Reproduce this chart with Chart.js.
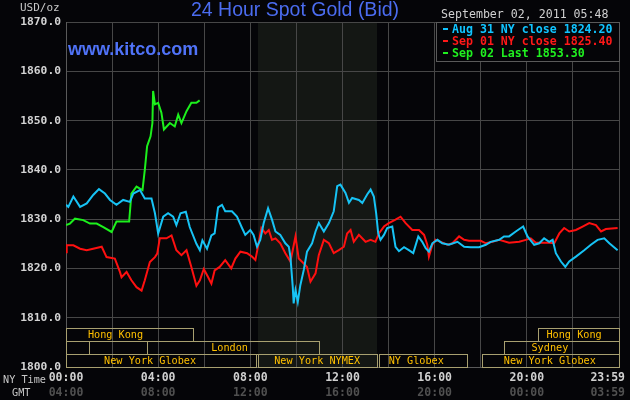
<!DOCTYPE html>
<html>
<head>
<meta charset="utf-8">
<script src="https://cdn.jsdelivr.net/npm/chart.js@4"></script>
<style>
  html, body { margin: 0; padding: 0; background: #050508; }
  canvas { display: block; }
</style>
</head>
<body>
<canvas id="chart" width="630" height="400"></canvas>
<script>
// hours since 00:00 NY time, price in USD/oz
const aug31Hours = [0, 0.1, 0.32, 0.61, 0.9, 1.18, 1.43, 1.69, 1.91, 2.19, 2.48, 2.77, 2.92, 3.21, 3.42, 3.71, 3.86, 4.0, 4.22, 4.43, 4.65, 4.79, 4.97, 5.2, 5.37, 5.66, 5.81, 5.92, 6.12, 6.31, 6.45, 6.6, 6.77, 6.91, 7.2, 7.42, 7.64, 7.78, 8.0, 8.14, 8.29, 8.43, 8.58, 8.77, 8.94, 9.09, 9.3, 9.52, 9.67, 9.74, 9.84, 9.88, 9.96, 10.06, 10.17, 10.32, 10.46, 10.68, 10.83, 10.97, 11.19, 11.41, 11.62, 11.77, 11.91, 12.13, 12.28, 12.42, 12.71, 12.86, 13.07, 13.22, 13.36, 13.46, 13.55, 13.65, 13.8, 13.94, 14.16, 14.3, 14.45, 14.67, 14.88, 15.07, 15.29, 15.46, 15.61, 15.75, 15.9, 16.12, 16.33, 16.62, 16.99, 17.28, 17.57, 17.93, 18.22, 18.43, 18.8, 19.01, 19.23, 19.52, 19.84, 20.03, 20.32, 20.54, 20.75, 20.97, 21.12, 21.26, 21.48, 21.67, 21.84, 22.13, 22.49, 22.78, 23.07, 23.36, 23.58, 23.94];
const aug31Values = [1832.9, 1832.5, 1834.6, 1832.5, 1833.2, 1834.9, 1836.1, 1835.2, 1833.9, 1832.9, 1833.9, 1833.5, 1835.2, 1835.9, 1834.2, 1834.2, 1831.2, 1827.1, 1830.5, 1831.2, 1830.5, 1828.8, 1831.2, 1831.5, 1828.4, 1825.0, 1823.7, 1825.7, 1824.0, 1826.7, 1827.1, 1832.4, 1832.9, 1831.6, 1831.6, 1830.5, 1828.2, 1826.8, 1827.8, 1826.8, 1824.4, 1825.8, 1829.2, 1832.2, 1829.9, 1827.5, 1826.8, 1825.1, 1824.4, 1822.4, 1816.3, 1812.9, 1815.6, 1813.2, 1816.6, 1819.7, 1823.4, 1825.1, 1827.5, 1829.2, 1827.5, 1829.2, 1831.6, 1836.7, 1837.0, 1835.3, 1833.3, 1834.3, 1833.9, 1833.3, 1835.0, 1836.0, 1834.6, 1831.2, 1827.1, 1825.8, 1826.8, 1828.2, 1828.5, 1824.4, 1823.5, 1824.3, 1823.7, 1823.1, 1826.5, 1825.4, 1824.1, 1823.4, 1825.1, 1825.8, 1825.1, 1824.8, 1825.4, 1824.4, 1824.3, 1824.3, 1824.8, 1825.4, 1825.8, 1826.5, 1826.5, 1827.5, 1828.5, 1826.5, 1824.8, 1825.1, 1826.1, 1825.4, 1825.8, 1823.1, 1821.4, 1820.3, 1821.4, 1822.4, 1823.7, 1824.8, 1825.8, 1826.1, 1825.1, 1823.7];

const sep01Hours = [0, 0.03, 0.32, 0.61, 0.9, 1.18, 1.55, 1.76, 2.12, 2.34, 2.41, 2.63, 2.84, 3.06, 3.28, 3.42, 3.64, 3.86, 3.96, 4.07, 4.36, 4.58, 4.79, 5.01, 5.23, 5.44, 5.66, 5.81, 5.98, 6.17, 6.31, 6.45, 6.67, 6.91, 7.17, 7.35, 7.57, 7.86, 8.07, 8.22, 8.36, 8.48, 8.65, 8.8, 8.94, 9.09, 9.3, 9.52, 9.74, 9.84, 9.96, 10.1, 10.32, 10.46, 10.61, 10.83, 10.97, 11.19, 11.41, 11.62, 11.84, 12.06, 12.2, 12.35, 12.49, 12.71, 13.0, 13.22, 13.43, 13.58, 13.8, 14.01, 14.3, 14.52, 14.74, 15.03, 15.32, 15.54, 15.68, 15.75, 15.9, 16.04, 16.26, 16.55, 16.77, 17.06, 17.28, 17.49, 18.0, 18.22, 18.51, 18.8, 19.23, 19.67, 19.96, 20.17, 20.39, 20.97, 21.19, 21.41, 21.62, 21.84, 22.13, 22.42, 22.71, 23.0, 23.22, 23.43, 23.94];
const sep01Values = [1823.3, 1824.7, 1824.7, 1824.0, 1823.7, 1824.0, 1824.4, 1822.3, 1822.0, 1819.3, 1818.2, 1819.3, 1817.6, 1816.2, 1815.5, 1817.6, 1821.3, 1822.3, 1823.0, 1826.1, 1826.1, 1826.7, 1823.7, 1822.7, 1823.7, 1820.3, 1816.5, 1817.6, 1819.9, 1818.2, 1816.9, 1819.6, 1820.3, 1821.7, 1820.0, 1822.0, 1823.4, 1823.1, 1822.4, 1821.7, 1825.1, 1828.2, 1827.1, 1827.8, 1825.8, 1826.1, 1825.1, 1823.1, 1821.4, 1823.7, 1826.5, 1822.0, 1821.0, 1820.3, 1817.3, 1819.0, 1822.7, 1825.8, 1825.1, 1823.1, 1823.7, 1824.4, 1827.1, 1827.8, 1825.4, 1826.8, 1825.4, 1825.8, 1825.4, 1827.1, 1828.5, 1829.2, 1829.9, 1830.5, 1829.2, 1827.8, 1827.8, 1826.8, 1824.8, 1822.4, 1824.8, 1825.8, 1825.4, 1824.8, 1825.1, 1826.5, 1825.8, 1825.6, 1825.6, 1825.1, 1825.4, 1825.8, 1825.2, 1825.4, 1825.8, 1826.1, 1825.2, 1825.2, 1825.1, 1827.1, 1828.2, 1827.5, 1827.8, 1828.5, 1829.2, 1828.8, 1827.5, 1828.0, 1828.2];

const sep02Hours = [0, 0.17, 0.39, 0.75, 1.04, 1.33, 1.62, 1.98, 2.19, 2.48, 2.74, 2.84, 3.06, 3.32, 3.42, 3.52, 3.67, 3.75, 3.78, 3.86, 4.0, 4.14, 4.25, 4.51, 4.72, 4.87, 5.01, 5.23, 5.44, 5.66, 5.8];
const sep02Values = [1828.8, 1829.1, 1830.1, 1829.8, 1829.1, 1829.1, 1828.4, 1827.4, 1829.5, 1829.5, 1829.5, 1835.2, 1836.6, 1835.9, 1840.0, 1844.8, 1846.8, 1849.5, 1856.0, 1853.3, 1853.6, 1851.6, 1848.2, 1849.5, 1848.8, 1851.2, 1849.5, 1851.9, 1853.6, 1853.6, 1854.1];

const seriesLabels = ['Aug 31 NY close 1824.20', 'Sep 01 NY close 1825.40', 'Sep 02 Last 1853.30'];
const seriesColors = ['#17c3f5', '#ff1010', '#1cf01c'];
const legendColors = ['#10c4ff', '#ff1818', '#20f020'];

const yTicks = [1800, 1810, 1820, 1830, 1840, 1850, 1860, 1870];
const nyTimeLabels = ['00:00', '04:00', '08:00', '12:00', '16:00', '20:00', '23:59'];
const gmtTimeLabels = ['04:00', '08:00', '12:00', '16:00', '20:00', '00:00', '03:59'];
const labelHours = [0, 4, 8, 12, 16, 20, 24];

// trading sessions along the bottom
const sessionNames = ['Hong Kong', '', '', 'London', 'New York Globex', 'New York NYMEX', 'NY Globex', 'New York Globex', 'Sydney', 'Hong Kong'];
const sessionStart = [0, 0, 1, 3.5, 0, 8.333, 13.58, 18.05, 19, 20.5];
const sessionEnd = [5.5, 1, 3.5, 11, 8.25, 13.5, 17.4, 24, 24, 24];
const sessionRow = [0, 1, 1, 1, 2, 2, 2, 2, 1, 0];
const sessionLabelAt = [2.15, 0, 0, 7.1, 3.65, 10.9, 15.2, 21.0, 21.0, 22.05];

const nymexHours = [8.333, 13.5];

const toPoints = (hs, vs) => hs.map((h, i) => ({ x: h, y: vs[i] }));

const MONO = "'DejaVu Sans Mono', 'Liberation Mono', monospace";
const SANS = "'Liberation Sans', Arial, sans-serif";

const backdrop = {
  id: 'backdrop',
  beforeDraw(chart) {
    const { ctx, chartArea: a, scales: { x } } = chart;
    ctx.save();
    ctx.fillStyle = '#050508';
    ctx.fillRect(0, 0, chart.width, chart.height);
    const x1 = Math.round(x.getPixelForValue(nymexHours[0]));
    const x2 = Math.round(x.getPixelForValue(nymexHours[1]));
    ctx.fillStyle = '#141714';
    ctx.fillRect(x1, a.top, x2 - x1, a.bottom - a.top);
    ctx.restore();
  },
};

const decorations = {
  id: 'decorations',
  afterDraw(chart) {
    const { ctx, chartArea: a, scales: { x } } = chart;
    ctx.save();

    // session boxes
    const rowH = 13;
    ctx.lineWidth = 1;
    ctx.font = `10.2px ${MONO}`;
    ctx.textAlign = 'center';
    ctx.textBaseline = 'middle';
    sessionNames.forEach((name, i) => {
      const x1 = Math.round(x.getPixelForValue(sessionStart[i]));
      const x2 = Math.round(x.getPixelForValue(sessionEnd[i]));
      const top = a.bottom - (3 - sessionRow[i]) * rowH;
      ctx.strokeStyle = '#a8a070';
      ctx.strokeRect(x1 + 0.5, top + 0.5, x2 - x1, rowH);
      if (name) {
        ctx.fillStyle = '#ffc000';
        ctx.fillText(name, x.getPixelForValue(sessionLabelAt[i]), top + rowH / 2 + 1);
      }
    });

    // x labels, NY time + GMT
    ctx.font = `bold 11.5px ${MONO}`;
    labelHours.forEach((h, i) => {
      let px = x.getPixelForValue(h);
      ctx.textAlign = 'center';
      if (i === labelHours.length - 1) { ctx.textAlign = 'right'; px += 6; }
      ctx.fillStyle = '#d0d0d0';
      ctx.fillText(nyTimeLabels[i], px, 378);
      ctx.fillStyle = '#505050';
      ctx.fillText(gmtTimeLabels[i], px, 393);
    });
    ctx.font = `10.2px ${MONO}`;
    ctx.textAlign = 'left';
    ctx.fillStyle = '#c8c8c8';
    ctx.fillText('NY Time', 3, 380);
    ctx.fillText('GMT', 12, 393);

    ctx.font = `11px ${MONO}`;
    ctx.fillText('USD/oz', 20, 8);

    // title + site
    ctx.fillStyle = '#4b6cf0';
    ctx.font = `19.5px ${SANS}`;
    ctx.textAlign = 'center';
    ctx.fillText('24 Hour Spot Gold (Bid)', 295, 11);
    ctx.textAlign = 'left';
    ctx.textBaseline = 'alphabetic';
    ctx.font = `bold 18px ${SANS}`;
    ctx.fillStyle = '#5073f8';
    ctx.fillText('www.kitco.com', 68, 55);

    // timestamp
    ctx.textBaseline = 'middle';
    ctx.font = `11.6px ${MONO}`;
    ctx.fillStyle = '#d0d0d0';
    ctx.fillText('September 02, 2011 05:48', 441, 15);

    // legend box
    const lx = 436, ly = a.top, lw = a.right - 436, lh = 39;
    ctx.fillStyle = '#050508';
    ctx.fillRect(lx, ly, lw, lh);
    ctx.strokeStyle = '#5a5a5a';
    ctx.strokeRect(lx + 0.5, ly + 0.5, lw, lh);
    ctx.font = `bold 11.6px ${MONO}`;
    chart.data.datasets.forEach((ds, i) => {
      const cy = ly + 7 + i * 12;
      ctx.fillStyle = legendColors[i];
      ctx.fillRect(443, Math.round(cy) - 1, 5, 2);
      ctx.fillText(ds.label, 452, cy + 1);
    });

    ctx.restore();
  },
};

new Chart(document.getElementById('chart'), {
  type: 'line',
  data: {
    datasets: [
      { label: seriesLabels[0], data: toPoints(aug31Hours, aug31Values), borderColor: seriesColors[0] },
      { label: seriesLabels[1], data: toPoints(sep01Hours, sep01Values), borderColor: seriesColors[1] },
      { label: seriesLabels[2], data: toPoints(sep02Hours, sep02Values), borderColor: seriesColors[2] },
    ],
  },
  options: {
    responsive: false,
    animation: false,
    layout: { padding: { top: 22, right: 11, left: 0, bottom: 0 } },
    elements: {
      line: { borderWidth: 2, tension: 0 },
      point: { radius: 0 },
    },
    plugins: { legend: { display: false }, tooltip: { enabled: false } },
    scales: {
      x: {
        type: 'linear',
        min: 0,
        max: 24,
        ticks: { display: false, stepSize: 2 },
        grid: { color: '#474747', drawTicks: false },
        border: { color: '#5a5a5a' },
        afterFit(s) { s.height = 33; },
      },
      y: {
        min: 1800,
        max: 1870,
        afterBuildTicks(s) { s.ticks = yTicks.map(v => ({ value: v })); },
        ticks: {
          color: '#d4d4d4',
          padding: 5,
          font: { family: MONO, size: 11.3, weight: 'bold' },
          callback: v => v.toFixed(1),
        },
        grid: { color: '#474747', drawTicks: false },
        border: { color: '#5a5a5a' },
        afterFit(s) { s.width = 66; },
      },
    },
  },
  plugins: [backdrop, decorations],
});
</script>
</body>
</html>
